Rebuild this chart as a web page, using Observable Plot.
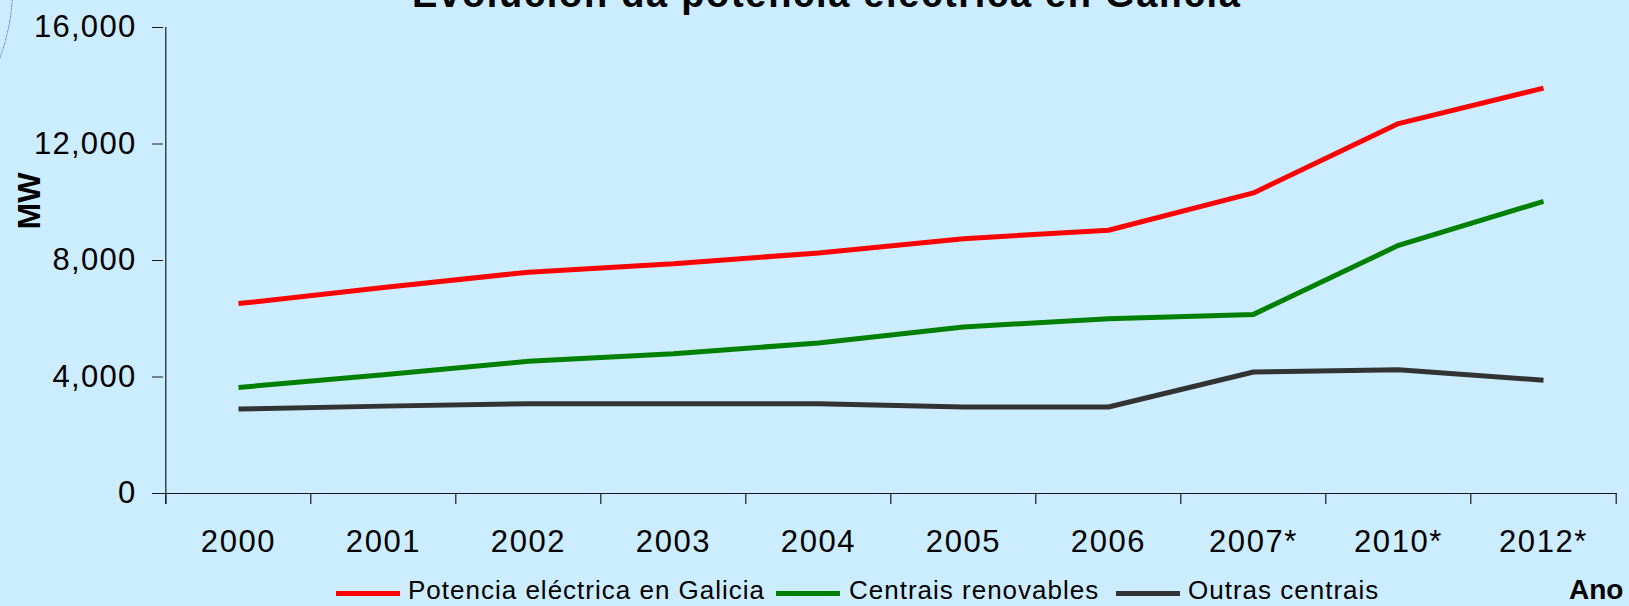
<!DOCTYPE html>
<html>
<head>
<meta charset="utf-8">
<script src="https://cdn.jsdelivr.net/npm/d3@7"></script>
<script src="https://cdn.jsdelivr.net/npm/@observablehq/plot@0.6"></script>
<style>
  html, body { margin: 0; padding: 0; background: #CCECFF; }
  #wrap { position: relative; width: 1629px; height: 606px; overflow: hidden; background: #CCECFF;
          font-family: "Liberation Sans", Arial, sans-serif; color: #000; }
  #chart { position: absolute; left: 0; top: 0; }
  #chart svg g[aria-label="x-axis tick label"] text { letter-spacing: 1.6px; }
  #chart svg g[aria-label="y-axis tick label"] text { letter-spacing: 1.3px; }
  .abs { position: absolute; white-space: nowrap; line-height: 1; }
  #title { left: 412px; top: -25px; font-size: 38px; font-weight: bold; letter-spacing: 1.7px; }
  #ylab { left: 29px; top: 201px; font-size: 32px; font-weight: bold; transform: translate(-50%, -50%) rotate(-90deg); }
  .sw { position: absolute; width: 64px; height: 5px; top: 591px; }
  .lt { font-size: 26px; letter-spacing: 1px; top: 577px; }
  #ano { left: 1569px; top: 576px; font-size: 28px; font-weight: bold; }
  #arc { position: absolute; left: -387px; top: -212px; width: 400px; height: 400px; box-sizing: border-box;
         border: 1px dotted #1f4fd0; border-radius: 50%; }
</style>
</head>
<body>
<div id="wrap">
  <div id="arc"></div>
  <div id="chart"></div>
  <div id="title" class="abs">Evolución da potencia eléctrica en Galicia</div>
  <div id="ylab" class="abs">MW</div>
  <div id="legend"></div>
  <div id="ano" class="abs">Ano</div>
</div>
<script>
// ---- data ----
const categories = ["2000", "2001", "2002", "2003", "2004", "2005", "2006", "2007*", "2010*", "2012*"];
const potencia   = [6520, 7070, 7600, 7890, 8260, 8750, 9040, 10320, 12700, 13920];
const renovables = [3640, 4080, 4540, 4800, 5170, 5720, 6000, 6150, 8520, 10030];
const outras     = [2900, 3000, 3080, 3080, 3080, 2970, 2970, 4170, 4250, 3890];
const seriesNames = ["Potencia eléctrica en Galicia", "Centrais renovables", "Outras centrais"];
const seriesColors = ["#FF0000", "#008000", "#333333"];
const yTicks = [0, 4000, 8000, 12000, 16000];

// ---- build table ----
const seriesValues = [potencia, renovables, outras];
const rows = [];
seriesNames.forEach((s, si) => {
  categories.forEach((c, i) => rows.push({serie: s, ano: c, mw: seriesValues[si][i]}));
});

const W = 1629, H = 560;
const mL = 163, mR = 12, mT = 27, mB = 67;
const step = (W - mL - mR) / categories.length;
const plotH = H - mT - mB;
const axisColor = "#1a1a1a";

const chart = Plot.plot({
  width: W,
  height: H,
  marginLeft: mL,
  marginRight: mR,
  marginTop: mT,
  marginBottom: mB,
  style: {background: "transparent", fontFamily: "'Liberation Sans', Arial, sans-serif", color: "#000"},
  x: {type: "point", domain: categories, padding: 0.5},
  y: {domain: [0, 16000]},
  color: {domain: seriesNames, range: seriesColors},
  marks: [
    // axis lines
    Plot.ruleY([0], {stroke: axisColor, strokeWidth: 1.2, insetLeft: -11}),
    Plot.ruleX([categories[0]], {dx: -step / 2, stroke: axisColor, strokeWidth: 1.2, insetBottom: -11}),
    // x ticks at category boundaries
    Plot.ruleX(categories, {dx: -step / 2, stroke: axisColor, strokeWidth: 1.2, insetTop: plotH, insetBottom: -11}),
    Plot.ruleX([categories[categories.length - 1]], {dx: step / 2, stroke: axisColor, strokeWidth: 1.2, insetTop: plotH, insetBottom: -11}),
    Plot.axisX({tickSize: 0, tickPadding: 36, fontSize: 31, label: null}),
    Plot.axisY({ticks: yTicks, tickSize: 11, tickPadding: 16, tickFormat: d3.format(","), fontSize: 31, label: null, stroke: axisColor}),
    // series lines
    Plot.line(rows, {x: "ano", y: "mw", z: "serie", stroke: "serie", strokeWidth: 5, strokeLinecap: "butt", strokeLinejoin: "miter"})
  ]
});
document.getElementById("chart").appendChild(chart);

// ---- legend ----
const legend = document.getElementById("legend");
const swLeft = [336, 776, 1116];
const txLeft = [408, 849, 1188];
seriesNames.forEach((s, i) => {
  const sw = document.createElement("div");
  sw.className = "sw";
  sw.style.left = swLeft[i] + "px";
  sw.style.background = seriesColors[i];
  legend.appendChild(sw);
  const t = document.createElement("div");
  t.className = "abs lt";
  t.style.left = txLeft[i] + "px";
  t.textContent = s;
  legend.appendChild(t);
});
</script>
</body>
</html>
